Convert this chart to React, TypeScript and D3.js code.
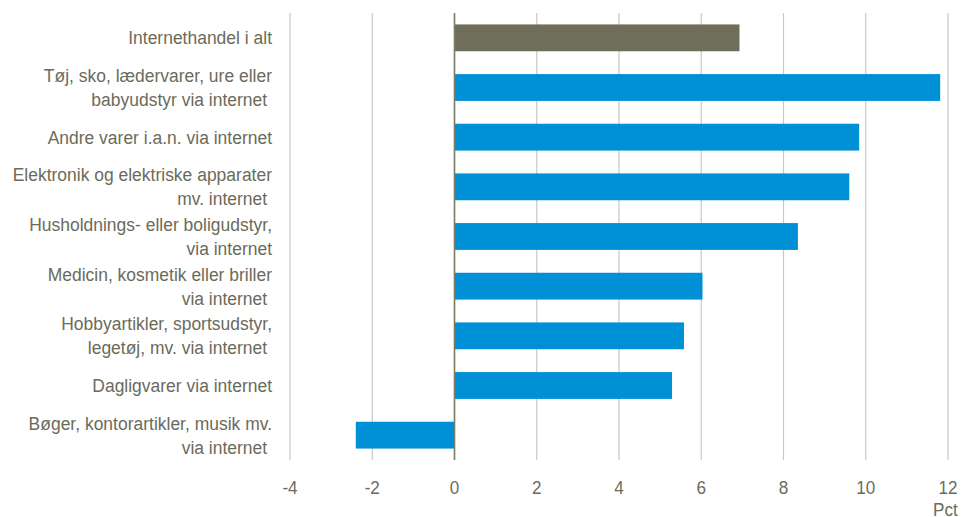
import React from "react";
import * as d3 from "d3";

const categories: string[][] = [
  ["Internethandel i alt"],
  ["Tøj, sko, lædervarer, ure eller", "babyudstyr via internet "],
  ["Andre varer i.a.n. via internet"],
  ["Elektronik og elektriske apparater", "mv. internet "],
  ["Husholdnings- eller boligudstyr,", "via internet"],
  ["Medicin, kosmetik eller briller", "via internet "],
  ["Hobbyartikler, sportsudstyr,", "legetøj, mv. via internet "],
  ["Dagligvarer via internet"],
  ["Bøger, kontorartikler, musik mv.", "via internet "],
];
const values: number[] = [6.93, 11.81, 9.84, 9.6, 8.35, 6.03, 5.58, 5.29, -2.4];
const xTicks: number[] = [-4, -2, 0, 2, 4, 6, 8, 10, 12];
const unitLabel = "Pct";

export default function App() {
  const W = 963, H = 517;
  const left = 290, right = 948, top = 13, bottom = 460;
  const x = d3.scaleLinear().domain([-4, 12]).range([left, right]);
  const y = d3
    .scaleBand<number>()
    .domain(d3.range(categories.length))
    .range([top, bottom])
    .paddingInner(0.46)
    .paddingOuter(0.23);
  const font = "'Liberation Sans', Arial, sans-serif";
  const textColor = "#6b6b5b";
  const lineH = 24;
  const fs = 19;
  const sx = 0.92;
  return (
    <svg width={W} height={H} style={{ position: "absolute", left: 0, top: 0 }} fontFamily={font}>
      <rect width={W} height={H} fill="#fff" />
      {xTicks.filter((t) => t !== 0).map((t) => (
        <line key={t} x1={x(t)} x2={x(t)} y1={top} y2={bottom} stroke="#c9c9c0" strokeWidth={1.2} />
      ))}
      {values.map((v, i) => (
        <rect
          key={i}
          x={x(Math.min(0, v))}
          width={Math.abs(x(v) - x(0))}
          y={y(i)!}
          height={y.bandwidth()}
          fill={i === 0 ? "#6f6e5b" : "#0090d5"}
        />
      ))}
      <line x1={x(0)} x2={x(0)} y1={top} y2={bottom} stroke="#7a7a68" strokeWidth={1.6} />
      <g transform={`translate(272,0) scale(${sx},1)`}>
        {categories.map((lines, i) => {
          const cy = y(i)! + y.bandwidth() / 2;
          const y0 = cy - ((lines.length - 1) * lineH) / 2;
          return (
            <text key={i} x={0} textAnchor="end" fontSize={fs} fill={textColor} style={{ whiteSpace: "pre" }}>
              {lines.map((l, j) => (
                <tspan key={j} x={0} y={y0 + j * lineH} dy="0.35em">
                  {l}
                </tspan>
              ))}
            </text>
          );
        })}
      </g>
      {xTicks.map((t) => (
        <g key={t} transform={`translate(${x(t)},0) scale(0.9,1)`}>
          <text x={0} y={487} dy="0.35em" textAnchor="middle" fontSize={fs} fill={textColor}>
            {t}
          </text>
        </g>
      ))}
      <g transform="translate(933,0) scale(0.9,1)">
        <text x={0} y={516} fontSize={fs} fill={textColor}>
          {unitLabel}
        </text>
      </g>
    </svg>
  );
}
